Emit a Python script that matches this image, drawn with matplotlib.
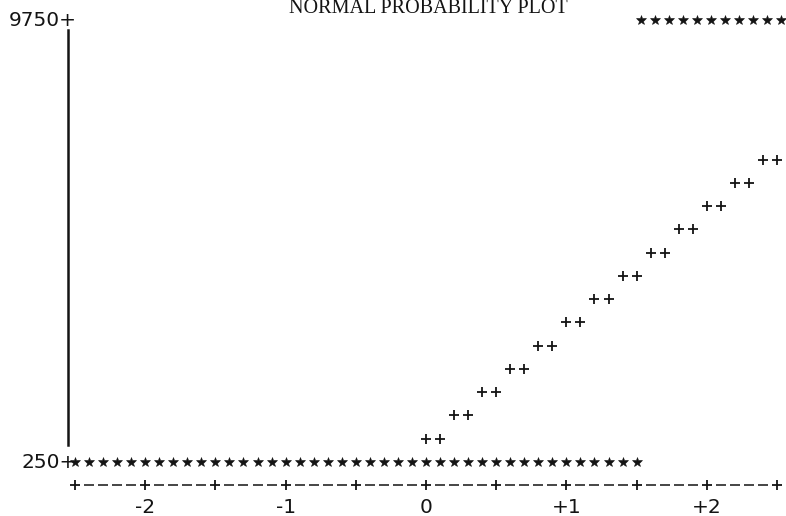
import numpy as np
import matplotlib
matplotlib.use("Agg")
import matplotlib.pyplot as plt

# line-printer style normal probability plot
TITLE = "NORMAL PROBABILITY PLOT"
Y_LABELS = ["9750+", "250+"]
Y_LABEL_POS = [9750, 250]
X_TICKS = [-2.5, -2.0, -1.5, -1.0, -0.5, 0.0, 0.5, 1.0, 1.5, 2.0, 2.5]
X_LABELS = ["-2", "-1", "0", "+1", "+2"]
X_LABEL_POS = [-2, -1, 0, 1, 2]

# lower row of asterisks (value 250)
low_x = [-2.5, -2.4, -2.3, -2.2, -2.1, -2.0, -1.9, -1.8, -1.7, -1.6,
         -1.5, -1.4, -1.3, -1.2, -1.1, -1.0, -0.9, -0.8, -0.7, -0.6,
         -0.5, -0.4, -0.3, -0.2, -0.1, 0.0, 0.1, 0.2, 0.3, 0.4,
         0.5, 0.6, 0.7, 0.8, 0.9, 1.0, 1.1, 1.2, 1.3, 1.4, 1.5]
low_y = [250] * len(low_x)

# upper row of asterisks (value 9750)
high_x = [1.53, 1.63, 1.73, 1.83, 1.93, 2.03, 2.13, 2.23, 2.33, 2.43, 2.53]
high_y = [9750] * len(high_x)

# the "++" reference line
ref_x = [0.0, 0.1, 0.2, 0.3, 0.4, 0.5, 0.6, 0.7, 0.8, 0.9, 1.0, 1.1, 1.2,
         1.3, 1.4, 1.5, 1.6, 1.7, 1.8, 1.9, 2.0, 2.1, 2.2, 2.3, 2.4, 2.5]
ref_y = [750, 750, 1250, 1250, 1750, 1750, 2250, 2250, 2750, 2750,
         3250, 3250, 3750, 3750, 4250, 4250, 4750, 4750, 5250, 5250,
         5750, 5750, 6250, 6250, 6750, 6750]

INK = "#141414"

fig = plt.figure(figsize=(7.86, 5.16), dpi=100)
ax = fig.add_axes([0, 0, 1, 1])
ax.set_xlim(-3.034, 2.564)
ax.set_ylim(-910, 10180)
ax.axis("off")

ax.plot(low_x, low_y, ls="none", marker="*", ms=7, color=INK, mec=INK, mew=0.4)
ax.plot(high_x, high_y, ls="none", marker="*", ms=7, color=INK, mec=INK, mew=0.4)
ax.plot(ref_x, ref_y, ls="none", marker="+", ms=7, mew=1.3, color=INK)

# left axis
ax.plot([-2.553, -2.553], [615, 9540], color=INK, lw=1.8)
for lab, pos in zip(Y_LABELS, Y_LABEL_POS):
    ax.text(-2.49, pos, lab, ha="right", va="center", fontsize=14.5,
            family="DejaVu Sans", color=INK)

# bottom axis:  +----+----+ ...
axis_y = -250
dashes = [d for d in np.round(np.arange(-2.5, 2.51, 0.1), 2)
          if not np.isclose(d * 2, round(d * 2))]
ax.plot(dashes, [axis_y] * len(dashes), ls="none", marker="_", ms=7.5,
        mew=1.1, color=INK)
ax.plot(X_TICKS, [axis_y] * len(X_TICKS), ls="none", marker="+", ms=7.5,
        mew=1.3, color=INK)
for lab, pos in zip(X_LABELS, X_LABEL_POS):
    ax.text(pos, -730, lab, ha="center", va="center", fontsize=14.5,
            family="DejaVu Sans", color=INK)

ax.text(0.02, 9900, TITLE, ha="center", va="baseline", fontsize=14.5,
        family="Liberation Serif", color=INK)

fig.savefig("out.png", dpi=100)
